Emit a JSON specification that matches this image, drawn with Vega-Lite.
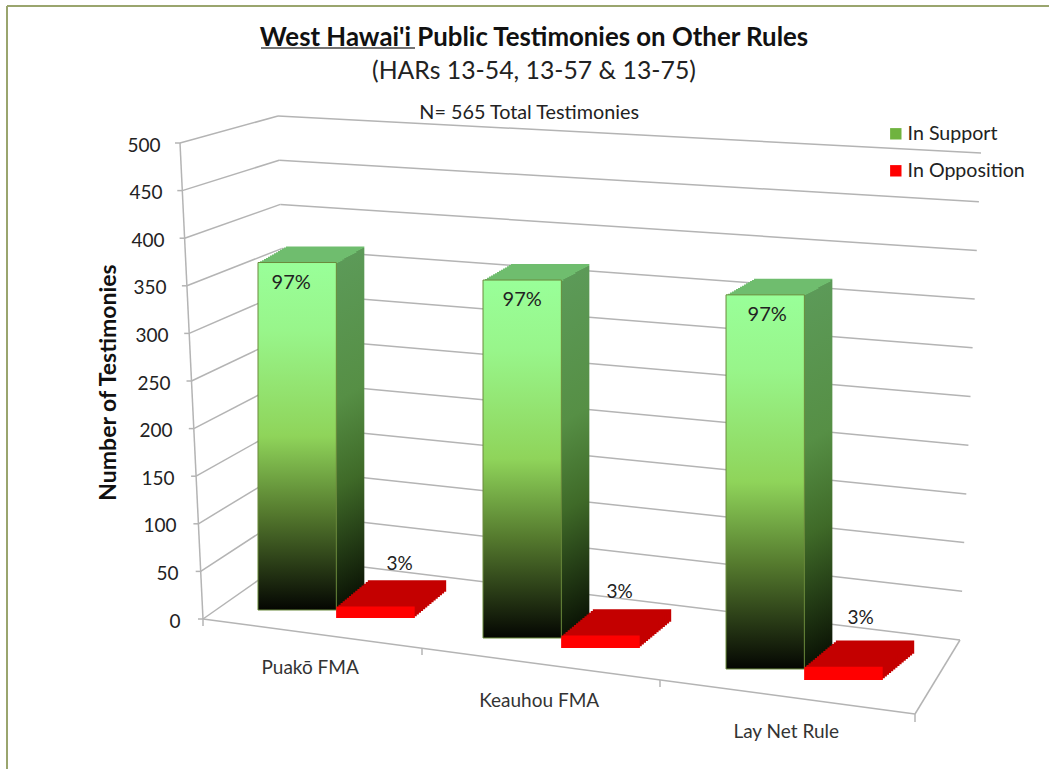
{"$schema":"https://vega.github.io/schema/vega-lite/v6.json","width":800,"height":476,"autosize":"none","padding":{"left":180,"top":143,"right":69,"bottom":150},"background":"white",
"params":[
{"name":"gb","value":{"Puakō FMA":-9,"Keauhou FMA":19,"Lay Net Rule":50}},
{"name":"rb","value":{"Puakō FMA":-1,"Keauhou FMA":29,"Lay Net Rule":61}},
{"name":"xs","value":{"Puakō FMA":3,"Keauhou FMA":-7,"Lay Net Rule":1}},
{"name":"t1","value":{"Puakō FMA":-3,"Keauhou FMA":-7,"Lay Net Rule":3}},
{"name":"t2","value":{"Puakō FMA":27,"Keauhou FMA":12,"Lay Net Rule":18}},
{"name":"ty","value":{"Puakō FMA":-43,"Keauhou FMA":-44,"Lay Net Rule":-49}},
{"name":"ldx","value":{"Puakō FMA":16,"Keauhou FMA":10,"Lay Net Rule":22}},
{"name":"ldy","value":{"Puakō FMA":49,"Keauhou FMA":82,"Lay Net Rule":113}},
{"name":"gs","value":{"gradient":"linear","x1":0,"y1":0,"x2":0,"y2":1,"stops":[{"offset":0,"color":"#6fbd6e"},{"offset":0.0045,"color":"#6fbd6e"},{"offset":0.0046,"color":"#5c9a58"},{"offset":0.4,"color":"#568f45"},{"offset":0.65,"color":"#3f6a28"},{"offset":1,"color":"#0a1204"}]}},
{"name":"gf","value":{"gradient":"linear","x1":0,"y1":0,"x2":0,"y2":1,"stops":[{"offset":0,"color":"#99ff99"},{"offset":0.2,"color":"#98f58a"},{"offset":0.5,"color":"#8fd45a"},{"offset":0.72,"color":"#557a2e"},{"offset":1,"color":"#040602"}]}}],
"title":{"text":"West Hawai'i Public Testimonies on Other Rules","subtitle":"(HARs 13-54, 13-57 & 13-75)","anchor":"middle","frame":"group","dx":-46,"offset":-80,"font":"Lato","fontWeight":"bold","fontSize":25.8,"color":"#111","subtitleFont":"Lato","subtitleFontSize":24.8,"subtitleColor":"#222","subtitlePadding":7},
"datasets":{"ticks":[{"tick":0},{"tick":50},{"tick":100},{"tick":150},{"tick":200},{"tick":250},{"tick":300},{"tick":350},{"tick":400},{"tick":450},{"tick":500}]},
"data":{"values":[{"rule":"Puakō FMA","slot":"P S","series":"In Support","count":365,"pct":"97%"},{"rule":"Puakō FMA","slot":"P O","series":"In Opposition","count":12,"pct":"3%"},{"rule":"Keauhou FMA","slot":"K S","series":"In Support","count":376,"pct":"97%"},{"rule":"Keauhou FMA","slot":"K O","series":"In Opposition","count":13,"pct":"3%"},{"rule":"Lay Net Rule","slot":"L S","series":"In Support","count":393,"pct":"97%"},{"rule":"Lay Net Rule","slot":"L O","series":"In Opposition","count":14,"pct":"3%"}]},
"config":{"view":{"stroke":null},"font":"Lato"},
"layer":[
{"data":{"name":"ticks"},"mark":{"type":"rule","color":"#b4b4b4","strokeWidth":1.5,"y2Offset":{"expr":"-61+0.068*datum.tick"}},"encoding":{"x":{"value":{"expr":"23*(1-datum.tick/500)"}},"x2":{"value":{"expr":"110-0.024*datum.tick"}},"y":{"field":"tick","type":"quantitative","scale":{"domain":[0,500]},"title":"Number of Testimonies","axis":{"values":[0,50,100,150,200,250,300,350,400,450,500],"titleFontSize":23,"titleFontWeight":"bold","titleColor":"#111","titleX":-60,"titleY":239,"titleAlign":"center","grid":false,"ticks":false,"domain":false,"labelFontSize":19,"labelColor":"#222","labelPadding":20,"encoding":{"labels":{"dx":{"value":{"expr":"20*(1-datum.value/500)"}},"dy":{"value":2}}}}},"y2":{"field":"tick"}}},
{"data":{"name":"ticks"},"mark":{"type":"rule","color":"#b4b4b4","strokeWidth":1.5,"yOffset":{"expr":"-61+0.068*datum.tick"},"y2Offset":{"expr":"21-0.022*datum.tick"}},"encoding":{"x":{"value":{"expr":"110-0.024*datum.tick"}},"x2":{"value":{"expr":"780+0.042*datum.tick"}},"y":{"field":"tick","type":"quantitative","title":"Number of Testimonies"},"y2":{"field":"tick"}}},
{"data":{"name":"ticks"},"mark":{"type":"rule","color":"#b4b4b4","strokeWidth":1.5},"encoding":{"x":{"value":{"expr":"-5+23*(1-datum.tick/500)"}},"x2":{"value":{"expr":"23*(1-datum.tick/500)"}},"y":{"field":"tick","type":"quantitative","title":"Number of Testimonies"}}},
{"data":{"name":"ticks"},"transform":[{"filter":"datum.tick==500"}],"mark":{"type":"rule","color":"#b4b4b4","strokeWidth":1.5},"encoding":{"x":{"value":0},"x2":{"value":23},"y":{"field":"tick","type":"quantitative","title":"Number of Testimonies"},"y2":{"datum":0}}},
{"data":{"name":"ticks"},"transform":[{"filter":"datum.tick==0"}],"mark":{"type":"rule","color":"#b4b4b4","strokeWidth":1.5,"y2Offset":95},"encoding":{"x":{"value":23},"x2":{"value":735},"y":{"field":"tick","type":"quantitative","title":"Number of Testimonies"},"y2":{"field":"tick"}}},
{"data":{"name":"ticks"},"transform":[{"filter":"datum.tick==0"}],"mark":{"type":"rule","color":"#b4b4b4","strokeWidth":1.5,"yOffset":95,"y2Offset":21},"encoding":{"x":{"value":735},"x2":{"value":780},"y":{"field":"tick","type":"quantitative","title":"Number of Testimonies"},"y2":{"field":"tick"}}},
{"data":{"name":"ticks"},"transform":[{"filter":"datum.tick==0"}],"mark":{"type":"rule","color":"#b4b4b4","strokeWidth":1.5,"y2Offset":7},"encoding":{"x":{"value":23},"y":{"field":"tick","type":"quantitative","title":"Number of Testimonies"},"y2":{"field":"tick"}}},
{"data":{"name":"ticks"},"transform":[{"filter":"datum.tick==0"}],"mark":{"type":"rule","color":"#b4b4b4","strokeWidth":1.5,"yOffset":29,"y2Offset":36},"encoding":{"x":{"value":242},"y":{"field":"tick","type":"quantitative","title":"Number of Testimonies"},"y2":{"field":"tick"}}},
{"data":{"name":"ticks"},"transform":[{"filter":"datum.tick==0"}],"mark":{"type":"rule","color":"#b4b4b4","strokeWidth":1.5,"yOffset":61,"y2Offset":68},"encoding":{"x":{"value":480},"y":{"field":"tick","type":"quantitative","title":"Number of Testimonies"},"y2":{"field":"tick"}}},
{"data":{"name":"ticks"},"transform":[{"filter":"datum.tick==0"}],"mark":{"type":"rule","color":"#b4b4b4","strokeWidth":1.5,"yOffset":95,"y2Offset":103},"encoding":{"x":{"value":735},"y":{"field":"tick","type":"quantitative","title":"Number of Testimonies"},"y2":{"field":"tick"}}},
{"encoding":{"x":{"field":"slot","type":"nominal","sort":null,"scale":{"domain":["P S","P O","gap1","K S","K O","gap2","L S","L O"],"range":[75,701.7],"paddingInner":0,"paddingOuter":0},"axis":null},"y":{"field":"count","type":"quantitative","stack":null,"title":"Number of Testimonies"},"y2":{"datum":0}},
"layer":[
{"mark":{"type":"bar","xOffset":{"expr":"xs[datum.rule]"},"yOffset":{"expr":"datum.series=='In Support'?gb[datum.rule]:rb[datum.rule]"},"y2Offset":{"expr":"datum.series=='In Support'?gb[datum.rule]:rb[datum.rule]"}},"encoding":{"color":{"field":"series","type":"nominal","scale":{"domain":["In Support","In Opposition"],"range":["#6fb33f","#ff0000"]},"legend":{"title":null,"orient":"none","legendX":706,"legendY":-19,"symbolType":"square","symbolSize":130,"symbolStrokeWidth":0,"labelFontSize":19.6,"labelColor":"#222","labelOffset":2,"rowPadding":16}}}},
{"transform":[{"filter":"datum.series=='In Support'"}],"layer":[
{"mark":{"type":"bar","fill":{"expr":"gs"},"xOffset":{"expr":"xs[datum.rule]+28"},"yOffset":{"expr":"gb[datum.rule]-16.1"},"y2Offset":{"expr":"gb[datum.rule]-16.1"}}},
{"mark":{"type":"bar","fill":{"expr":"gs"},"xOffset":{"expr":"xs[datum.rule]+26"},"yOffset":{"expr":"gb[datum.rule]-14.95"},"y2Offset":{"expr":"gb[datum.rule]-14.95"}}},
{"mark":{"type":"bar","fill":{"expr":"gs"},"xOffset":{"expr":"xs[datum.rule]+24"},"yOffset":{"expr":"gb[datum.rule]-13.8"},"y2Offset":{"expr":"gb[datum.rule]-13.8"}}},
{"mark":{"type":"bar","fill":{"expr":"gs"},"xOffset":{"expr":"xs[datum.rule]+22"},"yOffset":{"expr":"gb[datum.rule]-12.65"},"y2Offset":{"expr":"gb[datum.rule]-12.65"}}},
{"mark":{"type":"bar","fill":{"expr":"gs"},"xOffset":{"expr":"xs[datum.rule]+20"},"yOffset":{"expr":"gb[datum.rule]-11.5"},"y2Offset":{"expr":"gb[datum.rule]-11.5"}}},
{"mark":{"type":"bar","fill":{"expr":"gs"},"xOffset":{"expr":"xs[datum.rule]+18"},"yOffset":{"expr":"gb[datum.rule]-10.35"},"y2Offset":{"expr":"gb[datum.rule]-10.35"}}},
{"mark":{"type":"bar","fill":{"expr":"gs"},"xOffset":{"expr":"xs[datum.rule]+16"},"yOffset":{"expr":"gb[datum.rule]-9.2"},"y2Offset":{"expr":"gb[datum.rule]-9.2"}}},
{"mark":{"type":"bar","fill":{"expr":"gs"},"xOffset":{"expr":"xs[datum.rule]+14"},"yOffset":{"expr":"gb[datum.rule]-8.05"},"y2Offset":{"expr":"gb[datum.rule]-8.05"}}},
{"mark":{"type":"bar","fill":{"expr":"gs"},"xOffset":{"expr":"xs[datum.rule]+12"},"yOffset":{"expr":"gb[datum.rule]-6.9"},"y2Offset":{"expr":"gb[datum.rule]-6.9"}}},
{"mark":{"type":"bar","fill":{"expr":"gs"},"xOffset":{"expr":"xs[datum.rule]+10"},"yOffset":{"expr":"gb[datum.rule]-5.75"},"y2Offset":{"expr":"gb[datum.rule]-5.75"}}},
{"mark":{"type":"bar","fill":{"expr":"gs"},"xOffset":{"expr":"xs[datum.rule]+8"},"yOffset":{"expr":"gb[datum.rule]-4.6"},"y2Offset":{"expr":"gb[datum.rule]-4.6"}}},
{"mark":{"type":"bar","fill":{"expr":"gs"},"xOffset":{"expr":"xs[datum.rule]+6"},"yOffset":{"expr":"gb[datum.rule]-3.45"},"y2Offset":{"expr":"gb[datum.rule]-3.45"}}},
{"mark":{"type":"bar","fill":{"expr":"gs"},"xOffset":{"expr":"xs[datum.rule]+4"},"yOffset":{"expr":"gb[datum.rule]-2.3"},"y2Offset":{"expr":"gb[datum.rule]-2.3"}}},
{"mark":{"type":"bar","fill":{"expr":"gs"},"xOffset":{"expr":"xs[datum.rule]+2"},"yOffset":{"expr":"gb[datum.rule]-1.15"},"y2Offset":{"expr":"gb[datum.rule]-1.15"}}},
{"mark":{"type":"bar","fill":{"expr":"gf"},"stroke":"#6b8a3c","strokeWidth":1,"xOffset":{"expr":"xs[datum.rule]"},"yOffset":{"expr":"gb[datum.rule]"},"y2Offset":{"expr":"gb[datum.rule]"}}},
{"mark":{"type":"text","fontSize":20,"color":"#222","baseline":"middle","xOffset":{"expr":"t1[datum.rule]"},"yOffset":{"expr":"gb[datum.rule]+20"}},"encoding":{"y2":null,"text":{"field":"pct"}}},
{"mark":{"type":"text","fontSize":19,"color":"#333","baseline":"middle","xOffset":{"expr":"ldx[datum.rule]"},"yOffset":{"expr":"ldy[datum.rule]"}},"encoding":{"y":{"datum":0,"title":"Number of Testimonies"},"y2":null,"text":{"field":"rule"}}}
]},
{"transform":[{"filter":"datum.series=='In Opposition'"}],"layer":[
{"mark":{"type":"bar","fill":"#c40000","xOffset":{"expr":"xs[datum.rule]+31.5"},"yOffset":{"expr":"rb[datum.rule]-26.25"},"y2Offset":{"expr":"rb[datum.rule]-26.25"}}},
{"mark":{"type":"bar","fill":"#c40000","xOffset":{"expr":"xs[datum.rule]+29.4"},"yOffset":{"expr":"rb[datum.rule]-24.5"},"y2Offset":{"expr":"rb[datum.rule]-24.5"}}},
{"mark":{"type":"bar","fill":"#c40000","xOffset":{"expr":"xs[datum.rule]+27.3"},"yOffset":{"expr":"rb[datum.rule]-22.75"},"y2Offset":{"expr":"rb[datum.rule]-22.75"}}},
{"mark":{"type":"bar","fill":"#c40000","xOffset":{"expr":"xs[datum.rule]+25.2"},"yOffset":{"expr":"rb[datum.rule]-21"},"y2Offset":{"expr":"rb[datum.rule]-21"}}},
{"mark":{"type":"bar","fill":"#c40000","xOffset":{"expr":"xs[datum.rule]+23.1"},"yOffset":{"expr":"rb[datum.rule]-19.25"},"y2Offset":{"expr":"rb[datum.rule]-19.25"}}},
{"mark":{"type":"bar","fill":"#c40000","xOffset":{"expr":"xs[datum.rule]+21"},"yOffset":{"expr":"rb[datum.rule]-17.5"},"y2Offset":{"expr":"rb[datum.rule]-17.5"}}},
{"mark":{"type":"bar","fill":"#c40000","xOffset":{"expr":"xs[datum.rule]+18.9"},"yOffset":{"expr":"rb[datum.rule]-15.75"},"y2Offset":{"expr":"rb[datum.rule]-15.75"}}},
{"mark":{"type":"bar","fill":"#c40000","xOffset":{"expr":"xs[datum.rule]+16.8"},"yOffset":{"expr":"rb[datum.rule]-14"},"y2Offset":{"expr":"rb[datum.rule]-14"}}},
{"mark":{"type":"bar","fill":"#c40000","xOffset":{"expr":"xs[datum.rule]+14.7"},"yOffset":{"expr":"rb[datum.rule]-12.25"},"y2Offset":{"expr":"rb[datum.rule]-12.25"}}},
{"mark":{"type":"bar","fill":"#c40000","xOffset":{"expr":"xs[datum.rule]+12.6"},"yOffset":{"expr":"rb[datum.rule]-10.5"},"y2Offset":{"expr":"rb[datum.rule]-10.5"}}},
{"mark":{"type":"bar","fill":"#c40000","xOffset":{"expr":"xs[datum.rule]+10.5"},"yOffset":{"expr":"rb[datum.rule]-8.75"},"y2Offset":{"expr":"rb[datum.rule]-8.75"}}},
{"mark":{"type":"bar","fill":"#c40000","xOffset":{"expr":"xs[datum.rule]+8.4"},"yOffset":{"expr":"rb[datum.rule]-7"},"y2Offset":{"expr":"rb[datum.rule]-7"}}},
{"mark":{"type":"bar","fill":"#c40000","xOffset":{"expr":"xs[datum.rule]+6.3"},"yOffset":{"expr":"rb[datum.rule]-5.25"},"y2Offset":{"expr":"rb[datum.rule]-5.25"}}},
{"mark":{"type":"bar","fill":"#c40000","xOffset":{"expr":"xs[datum.rule]+4.2"},"yOffset":{"expr":"rb[datum.rule]-3.5"},"y2Offset":{"expr":"rb[datum.rule]-3.5"}}},
{"mark":{"type":"bar","fill":"#c40000","xOffset":{"expr":"xs[datum.rule]+2.1"},"yOffset":{"expr":"rb[datum.rule]-1.75"},"y2Offset":{"expr":"rb[datum.rule]-1.75"}}},
{"mark":{"type":"bar","fill":"#ff0000","xOffset":{"expr":"xs[datum.rule]"},"yOffset":{"expr":"rb[datum.rule]"},"y2Offset":{"expr":"rb[datum.rule]"}}},
{"mark":{"type":"text","fontSize":19,"color":"#222","baseline":"middle","xOffset":{"expr":"t2[datum.rule]"},"yOffset":{"expr":"rb[datum.rule]+ty[datum.rule]"}},"encoding":{"y2":null,"text":{"field":"pct"}}}
]}
]},
{"data":{"values":[{"note":"N= 565 Total Testimonies"}]},"mark":{"type":"text","fontSize":19.8,"color":"#222","yOffset":-30},"encoding":{"x":{"datum":"K S"},"y":{"datum":500,"title":"Number of Testimonies"},"text":{"field":"note"}}},
{"data":{"values":[{"part":"underline"}]},"mark":{"type":"rule","color":"#444","strokeWidth":1.5},"encoding":{"x":{"value":81},"x2":{"value":235},"y":{"value":-95}}},
{"data":{"values":[{"part":"frame"}]},"mark":{"type":"rule","color":"#9aa56e","strokeWidth":2},"encoding":{"x":{"value":-173},"x2":{"value":869},"y":{"value":-137}}},
{"data":{"values":[{"part":"frame"}]},"mark":{"type":"rule","color":"#9aa56e","strokeWidth":2},"encoding":{"x":{"value":-173},"y":{"value":-137},"y2":{"value":626}}}
]}
